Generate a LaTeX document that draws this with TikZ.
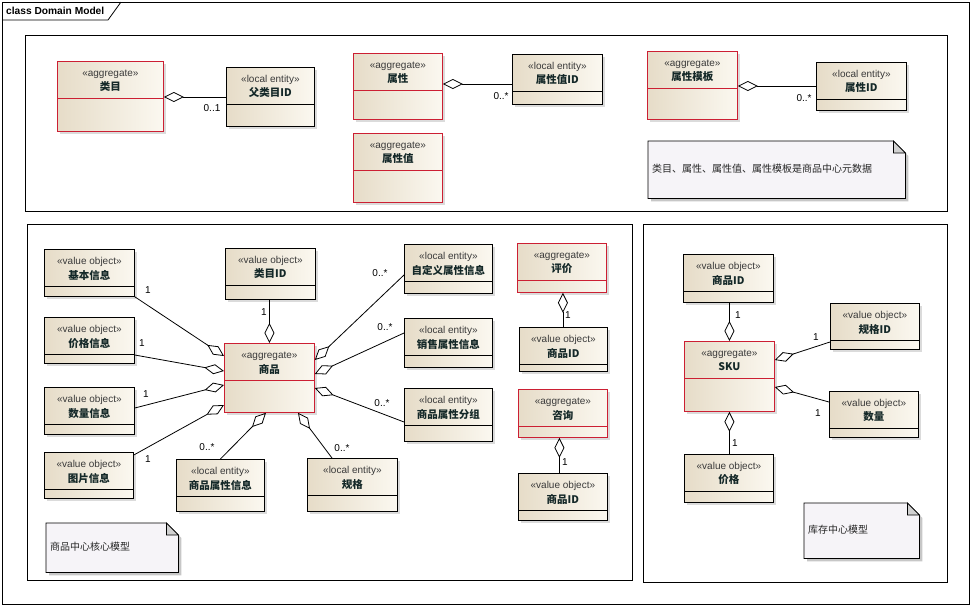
\documentclass[tikz,border=0pt]{standalone}
\usepackage{fontspec}
\setmainfont{Liberation Sans}
\newfontfamily\cjk{Noto Sans CJK SC}
\usetikzlibrary{calc,arrows.meta,shadows}
\definecolor{aggred}{HTML}{CC1F33}
\definecolor{boxL}{HTML}{E6DCC8}
\definecolor{boxR}{HTML}{FBF8F0}
\definecolor{notefill}{HTML}{F6F4F8}
\definecolor{stxt}{HTML}{3A3A3A}
\definecolor{ntxt}{HTML}{142828}
\tikzset{
  clsbox/.style={rectangle, inner sep=0pt, line width=0.8pt, left color=boxL, right color=boxR,
    drop shadow={shadow xshift=3pt, shadow yshift=-3pt, fill=black!28}},
  stereotxt/.style={inner sep=0pt, text=stxt, font=\fontsize{10}{12}\selectfont},
  nametxt/.style={inner sep=0pt, text=ntxt, font=\cjk\bfseries\fontsize{10.5}{12}\selectfont},
  notetxt/.style={inner sep=0pt, text=black!85, font=\cjk\fontsize{10}{12}\selectfont},
  multtxt/.style={inner sep=0pt, font=\fontsize{10}{12}\selectfont},
  agg/.style={draw, line width=0.8pt, {Diamond[open,length=20pt,width=10pt]}-},
  panel/.style={draw, line width=0.8pt},
  notebox/.style={draw, line width=0.8pt, fill=notefill},
}
% #1 border colour, #2 name, #3 x1, #4 y1, #5 x2, #6 y2, #7 stereotype, #8 title
\newcommand\umlcls[8]{%
  \node[clsbox, anchor=north west, minimum width={#5-#3}, minimum height={#6-#4}, draw=#1] (#2) at (#3,#4) {};
  \draw[#1, line width=0.8pt] ($(#2.north west)+(0,37)$) -- ($(#2.north east)+(0,37)$);
  \node[stereotxt] (#2-s) at ($(#2.north)+(0,13)$) {«#7»};
  \node[nametxt] (#2-t) at ($(#2.north)+(0,26)$) {#8};
}
% #1 name, #2 x1, #3 y1, #4 x2, #5 y2, #6 text
\newcommand\umlnote[6]{%
  \node[inner sep=0pt, anchor=north west, minimum width={#4-#2}, minimum height={#5-#3}] (#1) at (#2,#3) {};
  \fill[black!22] ($(#1.north west)+(3,3)$) -- ($(#1.north east)+(-9,3)$) -- ($(#1.north east)+(3,15)$) -- ($(#1.south east)+(3,3)$) -- ($(#1.south west)+(3,3)$) -- cycle;
  \draw[notebox] (#1.north west) -- ($(#1.north east)+(-12,0)$) -- ($(#1.north east)+(0,12)$) -- (#1.south east) -- (#1.south west) -- cycle;
  \filldraw[line width=0.8pt, fill=black!18] ($(#1.north east)+(-12,0)$) -- ($(#1.north east)+(-12,12)$) -- ($(#1.north east)+(0,12)$) -- cycle;
  \node[notetxt, anchor=west] (#1-t) at ($(#1.west)+(4,-1)$) {#6};
}
\begin{document}
\begin{tikzpicture}[x=1pt,y=-1pt]
\useasboundingbox (0,0) rectangle (972,606);
\fill[white] (0,0) rectangle (972,606);
% outer frame
\draw[panel] (2,2) rectangle (969,604);
\draw[panel] (2,20) -- (108,20) -- (121,2);
\node[inner sep=0pt, anchor=west, font=\bfseries\fontsize{10.2}{12}\selectfont] (frametitle) at (6,11) {class Domain Model};
% panels
\draw[panel] (25,35) rectangle (947,211);
\draw[panel] (27,224) rectangle (632,580);
\draw[panel] (643,224) rectangle (947,582);

% top panel
\umlcls{aggred}{leimu}{57}{61}{163}{131}{aggregate}{类目}
\umlcls{black}{fuid}{226}{67}{314}{126}{local entity}{父类目ID}
\umlcls{aggred}{shuxing}{353}{53}{442}{119}{aggregate}{属性}
\umlcls{black}{sxzid}{512}{54}{602}{104}{local entity}{属性值ID}
\umlcls{aggred}{sxz}{353}{133}{442}{202}{aggregate}{属性值}
\umlcls{aggred}{sxmb}{647}{51}{737}{119}{aggregate}{属性模板}
\umlcls{black}{sxid}{816}{62}{906}{110}{local entity}{属性ID}
\umlnote{note1}{648}{141}{905}{198}{类目、属性、属性值、属性模板是商品中心元数据}

% bottom-left panel
\umlcls{black}{jbxx}{44}{249}{134}{296}{value object}{基本信息}
\umlcls{black}{jgxx}{44}{317}{134}{363}{value object}{价格信息}
\umlcls{black}{slxx}{44}{387}{134}{434}{value object}{数量信息}
\umlcls{black}{tpxx}{44}{452}{133}{498}{value object}{图片信息}
\umlcls{black}{lmid}{225}{248}{315}{299}{value object}{类目ID}
\umlcls{aggred}{spu}{224}{343}{314}{412}{aggregate}{商品}
\umlcls{black}{sxxx}{176}{459}{264}{511}{local entity}{商品属性信息}
\umlcls{black}{gg}{307}{458}{397}{511}{local entity}{规格}
\umlcls{black}{zdy}{404}{244}{492}{293}{local entity}{自定义属性信息}
\umlcls{black}{xssx}{404}{318}{492}{367}{local entity}{销售属性信息}
\umlcls{black}{sxfz}{404}{388}{492}{441}{local entity}{商品属性分组}
\umlcls{aggred}{pj}{517}{243}{606}{292}{aggregate}{评价}
\umlcls{black}{pid1}{519}{327}{607}{371}{value object}{商品ID}
\umlcls{aggred}{zx}{518}{389}{607}{437}{aggregate}{咨询}
\umlcls{black}{pid2}{518}{473}{607}{520}{value object}{商品ID}
\umlnote{note2}{46}{523}{178}{572}{商品中心核心模型}

% right panel
\umlcls{black}{pid3}{683}{254}{773}{302}{value object}{商品ID}
\umlcls{aggred}{sku}{684}{341}{774}{411}{aggregate}{SKU}
\umlcls{black}{ggid}{830}{303}{919}{349}{value object}{规格ID}
\umlcls{black}{sl}{829}{391}{918}{437}{value object}{数量}
\umlcls{black}{jg}{684}{454}{773}{502}{value object}{价格}
\umlnote{note3}{804}{503}{919}{558}{库存中心模型}

% connectors
\draw[agg] ($(leimu.north east)+(0,36)$) -- ($(fuid.north west)+(0,30)$);
\draw[agg] ($(shuxing.north east)+(0,31)$) -- ($(sxzid.north west)+(0,30)$);
\draw[agg] ($(sxmb.north east)+(0,35)$) -- ($(sxid.north west)+(0,24)$);

\draw[agg] (spu.north) -- (spu.north |- lmid.south);
\draw[agg] ($(spu.north west)+(0,13)$) -- (jbxx.south east);
\draw[agg] ($(spu.north west)+(0,28)$) -- ($(jgxx.north east)+(0,38)$);
\draw[agg] ($(spu.north west)+(0,42)$) -- ($(slxx.north east)+(0,21)$);
\draw[agg] ($(spu.north west)+(0,62)$) -- ($(tpxx.north east)+(0,3)$);
\draw[agg] ($(spu.south west)+(42,0)$) -- (sxxx.north);
\draw[agg] ($(spu.south west)+(74,0)$) -- ($(gg.north west)+(25,0)$);
\draw[agg] ($(spu.north east)+(0,17)$) -- ($(zdy.north west)+(0,31)$);
\draw[agg] ($(spu.north east)+(0,31)$) -- ($(xssx.north west)+(0,15)$);
\draw[agg] ($(spu.north east)+(0,45)$) -- ($(sxfz.north west)+(0,34)$);
\draw[agg] ($(pj.south)+(1,0)$) -- ($(pj.south |- pid1.north)+(1,0)$);
\draw[agg] ($(zx.south)+(-3.5,0)$) -- ($(zx.south |- pid2.north)+(-3.5,0)$);

\draw[agg] (sku.north) -- (sku.north |- pid3.south);
\draw[agg] ($(sku.north east)+(0,19)$) -- ($(ggid.north west)+(0,39)$);
\draw[agg] ($(sku.north east)+(0,46)$) -- ($(sl.north west)+(0,11)$);
\draw[agg] (sku.south) -- (sku.south |- jg.north);

% multiplicities
\node[multtxt] (m1) at (212,108) {0..1};
\node[multtxt] (m2) at (501,96) {0..*};
\node[multtxt] (m3) at (804,98) {0..*};
\node[multtxt] (m4) at (264,312) {1};
\node[multtxt] (m5) at (148,290) {1};
\node[multtxt] (m6) at (142,343) {1};
\node[multtxt] (m7) at (146,394) {1};
\node[multtxt] (m8) at (148,459) {1};
\node[multtxt] (m9) at (207,447) {0..*};
\node[multtxt] (m10) at (342,448) {0..*};
\node[multtxt] (m11) at (380,273) {0..*};
\node[multtxt] (m12) at (385,327) {0..*};
\node[multtxt] (m13) at (382,403) {0..*};
\node[multtxt] (m14) at (568,315) {1};
\node[multtxt] (m15) at (565,462) {1};
\node[multtxt] (m16) at (738,315) {1};
\node[multtxt] (m17) at (816,337) {1};
\node[multtxt] (m18) at (818,413) {1};
\node[multtxt] (m19) at (735,443) {1};
\end{tikzpicture}
\end{document}
